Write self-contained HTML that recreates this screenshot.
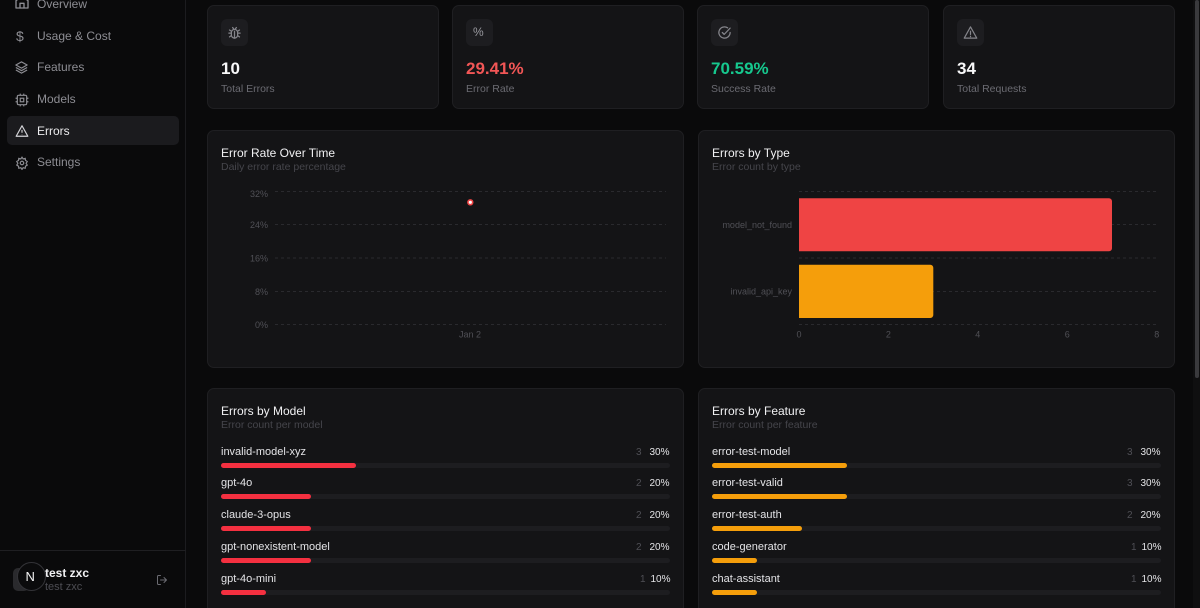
<!DOCTYPE html>
<html><head><meta charset="utf-8">
<style>
*{margin:0;padding:0;box-sizing:border-box}
html,body{width:1200px;height:608px;overflow:hidden;background:#0a0a0b;font-family:"Liberation Sans",sans-serif}
#wrap{position:relative;width:1200px;height:608px;overflow:hidden;background:#0a0a0b}
.a{position:absolute;white-space:nowrap;line-height:1}
.card{position:absolute;background:#141416;border:1px solid #1f1f22;border-radius:7px}
.ib{position:absolute;width:27px;height:27px;border-radius:6px;background:#1d1d20}
.val{font-size:17px;font-weight:700}
.lab{font-size:10.5px;color:#6b6b72}
.ttl{font-size:12px;color:#f1f1f3}
.sub{font-size:10.5px;color:#45454b}
.nav{font-size:12px;color:#8d8d93}
.row{font-size:11px;color:#e4e4e7}
.cnt{font-size:10px;color:#4f4f55}
.pct{font-size:10px;color:#e4e4e7}
.trk{position:absolute;height:5px;border-radius:3px;background:#1d1d20}
.fil{position:absolute;height:5px;border-radius:3px}
</style></head><body><div id="wrap">

<!-- sidebar -->
<div style="position:absolute;left:0;top:0;width:186px;height:608px;background:#0a0a0b;border-right:1px solid #1c1c1f"></div>
<div style="position:absolute;left:7px;top:116px;width:172px;height:29px;border-radius:5px;background:#1b1b1e"></div>

<svg class="a" style="left:14px;top:-6px" width="16" height="16" viewBox="0 0 24 24" fill="none" stroke="#8d8d93" stroke-width="2" stroke-linecap="round" stroke-linejoin="round"><path d="M3 10l9-7 9 7v11H3z"/><path d="M9 21v-7h6v7"/></svg>
<div class="a nav" style="left:37px;top:-2.3px">Overview</div>

<div class="a nav" style="left:16px;top:28.5px;font-size:14px">$</div>
<div class="a nav" style="left:37px;top:29.6px">Usage &amp; Cost</div>

<svg class="a" style="left:14px;top:59.5px" width="15" height="15" viewBox="0 0 24 24" fill="none" stroke="#8d8d93" stroke-width="2" stroke-linejoin="round"><path d="M12 3l9 5-9 5-9-5z"/><path d="M3 12l9 5 9-5"/><path d="M3 16l9 5 9-5"/></svg>
<div class="a nav" style="left:37px;top:61px">Features</div>

<svg class="a" style="left:15px;top:92.5px" width="14" height="14" viewBox="0 0 24 24" fill="none" stroke="#8d8d93" stroke-width="2"><rect x="4" y="4" width="16" height="16" rx="2"/><rect x="9" y="9" width="6" height="6"/><path d="M9 1v3M15 1v3M9 20v3M15 20v3M1 9h3M1 15h3M20 9h3M20 15h3"/></svg>
<div class="a nav" style="left:37px;top:92.6px">Models</div>

<svg class="a" style="left:15px;top:123.5px" width="14" height="14" viewBox="0 0 24 24" fill="none" stroke="#d4d4d8" stroke-width="2" stroke-linejoin="round"><path d="M12 3L2 21h20z"/><path d="M12 10v5M12 18v.5"/></svg>
<div class="a nav" style="left:37px;top:125px;color:#ececee">Errors</div>

<svg class="a" style="left:15px;top:155.5px" width="14" height="14" viewBox="0 0 24 24" fill="none" stroke="#8d8d93" stroke-width="2"><circle cx="12" cy="12" r="3"/><path d="M12 2l2 3 3.5-1 .5 3.5 3 2-2 3 2 3-3 2-.5 3.5-3.5-1-2 3-2-3-3.5 1-.5-3.5-3-2 2-3-2-3 3-2 .5-3.5 3.5 1z"/></svg>
<div class="a nav" style="left:37px;top:156.3px">Settings</div>

<div style="position:absolute;left:0;top:550px;width:186px;height:1px;background:#1f1f22"></div>
<div style="position:absolute;left:13px;top:568px;width:16px;height:23px;border-radius:5px;background:#2a2a2d"></div>
<div style="position:absolute;left:17px;top:562px;width:29px;height:29px;border-radius:50%;background:#0b0b0c;border:1px solid #333337"></div>
<div class="a" style="left:25.5px;top:569.5px;font-size:13px;color:#f4f4f5">N</div>
<div class="a" style="left:45px;top:567px;font-size:12px;font-weight:700;color:#f1f1f3">test zxc</div>
<div class="a" style="left:45px;top:582.3px;font-size:11px;color:#4d4d53">test zxc</div>
<svg class="a" style="left:156px;top:574px" width="12" height="12" viewBox="0 0 24 24" fill="none" stroke="#6b6b72" stroke-width="2" stroke-linecap="round" stroke-linejoin="round"><path d="M9 21H5a2 2 0 0 1-2-2V5a2 2 0 0 1 2-2h4"/><path d="M16 17l5-5-5-5M21 12H9"/></svg>

<!-- scrollbar -->
<div style="position:absolute;left:1193px;top:0;width:7px;height:608px;background:#0f0f10"></div>
<div style="position:absolute;left:1195px;top:0;width:4px;height:378px;border-radius:2px;background:#3a3a3d"></div>

<!-- stat cards -->
<div class="card" style="left:207px;top:5px;width:232px;height:104px"></div>
<div class="ib" style="left:221px;top:19px"></div>
<svg class="a" style="left:227px;top:25px" width="15" height="15" viewBox="0 0 24 24" fill="none" stroke="#85858b" stroke-width="2" stroke-linecap="round"><rect x="7" y="7" width="10" height="14" rx="5"/><path d="M9 4l1.5 2M15 4l-1.5 2M12 10v11M3 13h4M17 13h4M4 8l3 2M20 8l-3 2M4 19l3-2M20 19l-3-2"/></svg>
<div class="a val" style="left:221px;top:60px;color:#f8f8f9">10</div>
<div class="a lab" style="left:221px;top:83.5px">Total Errors</div>

<div class="card" style="left:452px;top:5px;width:232px;height:104px"></div>
<div class="ib" style="left:466px;top:19px"></div>
<div class="a" style="left:473px;top:26px;font-size:12px;color:#9a9aa0">%</div>
<div class="a val" style="left:466px;top:60px;color:#f25656">29.41%</div>
<div class="a lab" style="left:466px;top:83.5px">Error Rate</div>

<div class="card" style="left:697px;top:5px;width:232px;height:104px"></div>
<div class="ib" style="left:711px;top:19px"></div>
<svg class="a" style="left:717px;top:25px" width="15" height="15" viewBox="0 0 24 24" fill="none" stroke="#85858b" stroke-width="2" stroke-linecap="round" stroke-linejoin="round"><path d="M21 12a9 9 0 1 1-4-7.5"/><path d="M8.5 12l3 3L21 5"/></svg>
<div class="a val" style="left:711px;top:60px;color:#16c88e">70.59%</div>
<div class="a lab" style="left:711px;top:83.5px">Success Rate</div>

<div class="card" style="left:943px;top:5px;width:232px;height:104px"></div>
<div class="ib" style="left:957px;top:19px"></div>
<svg class="a" style="left:963px;top:25px" width="15" height="15" viewBox="0 0 24 24" fill="none" stroke="#85858b" stroke-width="2" stroke-linejoin="round" stroke-linecap="round"><path d="M12 3L2 21h20z"/><path d="M12 10v5M12 18v.5"/></svg>
<div class="a val" style="left:957px;top:60px;color:#f8f8f9">34</div>
<div class="a lab" style="left:957px;top:83.5px">Total Requests</div>

<!-- error rate over time -->
<div class="card" style="left:207px;top:130px;width:477px;height:238px"></div>
<div class="a ttl" style="left:221px;top:146.5px">Error Rate Over Time</div>
<div class="a sub" style="left:221px;top:161.8px">Daily error rate percentage</div>
<svg class="a" style="left:0;top:0" width="1200" height="608">
<g stroke="#2a2a2e" stroke-width="1" stroke-dasharray="3 3">
<line x1="275" y1="191.5" x2="666" y2="191.5"/>
<line x1="275" y1="224.5" x2="666" y2="224.5"/>
<line x1="275" y1="258" x2="666" y2="258"/>
<line x1="275" y1="291.5" x2="666" y2="291.5"/>
<line x1="275" y1="324.5" x2="666" y2="324.5"/>
</g>
<g font-family="Liberation Sans, sans-serif" font-size="9" fill="#505056" text-anchor="end">
<text x="268" y="197">32%</text>
<text x="268" y="228">24%</text>
<text x="268" y="261.5">16%</text>
<text x="268" y="295">8%</text>
<text x="268" y="328">0%</text>
</g>
<text x="470" y="337.5" font-family="Liberation Sans, sans-serif" font-size="9" fill="#505056" text-anchor="middle">Jan 2</text>
<circle cx="470.3" cy="202.3" r="2.4" fill="#ffffff" stroke="#ef4444" stroke-width="1.6"/>
</svg>

<!-- errors by type -->
<div class="card" style="left:698px;top:130px;width:477px;height:238px"></div>
<div class="a ttl" style="left:712px;top:146.5px">Errors by Type</div>
<div class="a sub" style="left:712px;top:161.8px">Error count by type</div>
<svg class="a" style="left:0;top:0" width="1200" height="608">
<g stroke="#2a2a2e" stroke-width="1" stroke-dasharray="3 3">
<line x1="799" y1="191.5" x2="1157" y2="191.5"/>
<line x1="799" y1="224.5" x2="1157" y2="224.5"/>
<line x1="799" y1="258" x2="1157" y2="258"/>
<line x1="799" y1="291.5" x2="1157" y2="291.5"/>
<line x1="799" y1="324.5" x2="1157" y2="324.5"/>
</g>
<path d="M799 198.3 h310 a3 3 0 0 1 3 3 v47 a3 3 0 0 1 -3 3 h-310 z" fill="#ef4444"/>
<path d="M799 264.7 h131.3 a3 3 0 0 1 3 3 v47.3 a3 3 0 0 1 -3 3 h-131.3 z" fill="#f59e0b"/>
<g font-family="Liberation Sans, sans-serif" font-size="9" fill="#505056" text-anchor="end">
<text x="792" y="228">model_not_found</text>
<text x="792" y="294.5">invalid_api_key</text>
</g>
<g font-family="Liberation Sans, sans-serif" font-size="9" fill="#505056" text-anchor="middle">
<text x="799" y="337.5">0</text>
<text x="888.4" y="337.5">2</text>
<text x="977.8" y="337.5">4</text>
<text x="1067.3" y="337.5">6</text>
<text x="1156.7" y="337.5">8</text>
</g>
</svg>

<!-- errors by model -->
<div class="card" style="left:207px;top:388px;width:477px;height:240px"></div>
<div class="a ttl" style="left:221px;top:404.8px">Errors by Model</div>
<div class="a sub" style="left:221px;top:419.5px">Error count per model</div>

<div class="a row" style="left:221px;top:446.5px">invalid-model-xyz</div>
<div class="a cnt" style="left:636px;top:447.5px">3</div>
<div class="a pct" style="left:649.5px;top:447.5px">30%</div>
<div class="trk" style="left:221px;top:462.5px;width:449px"></div>
<div class="fil" style="left:221px;top:462.5px;width:134.5px;background:#f43040"></div>

<div class="a row" style="left:221px;top:478.3px">gpt-4o</div>
<div class="a cnt" style="left:636px;top:479.3px">2</div>
<div class="a pct" style="left:649.5px;top:479.3px">20%</div>
<div class="trk" style="left:221px;top:494.3px;width:449px"></div>
<div class="fil" style="left:221px;top:494.3px;width:90px;background:#f43040"></div>

<div class="a row" style="left:221px;top:510px">claude-3-opus</div>
<div class="a cnt" style="left:636px;top:511px">2</div>
<div class="a pct" style="left:649.5px;top:511px">20%</div>
<div class="trk" style="left:221px;top:526px;width:449px"></div>
<div class="fil" style="left:221px;top:526px;width:90px;background:#f43040"></div>

<div class="a row" style="left:221px;top:541.8px">gpt-nonexistent-model</div>
<div class="a cnt" style="left:636px;top:542.8px">2</div>
<div class="a pct" style="left:649.5px;top:542.8px">20%</div>
<div class="trk" style="left:221px;top:557.8px;width:449px"></div>
<div class="fil" style="left:221px;top:557.8px;width:90px;background:#f43040"></div>

<div class="a row" style="left:221px;top:573.5px">gpt-4o-mini</div>
<div class="a cnt" style="left:640px;top:574.5px">1</div>
<div class="a pct" style="left:650.5px;top:574.5px">10%</div>
<div class="trk" style="left:221px;top:589.5px;width:449px"></div>
<div class="fil" style="left:221px;top:589.5px;width:45px;background:#f43040"></div>

<!-- errors by feature -->
<div class="card" style="left:698px;top:388px;width:477px;height:240px"></div>
<div class="a ttl" style="left:712px;top:404.8px">Errors by Feature</div>
<div class="a sub" style="left:712px;top:419.5px">Error count per feature</div>

<div class="a row" style="left:712px;top:446.5px">error-test-model</div>
<div class="a cnt" style="left:1127px;top:447.5px">3</div>
<div class="a pct" style="left:1140.5px;top:447.5px">30%</div>
<div class="trk" style="left:712px;top:462.5px;width:449px"></div>
<div class="fil" style="left:712px;top:462.5px;width:134.5px;background:#f59e0b"></div>

<div class="a row" style="left:712px;top:478.3px">error-test-valid</div>
<div class="a cnt" style="left:1127px;top:479.3px">3</div>
<div class="a pct" style="left:1140.5px;top:479.3px">30%</div>
<div class="trk" style="left:712px;top:494.3px;width:449px"></div>
<div class="fil" style="left:712px;top:494.3px;width:134.5px;background:#f59e0b"></div>

<div class="a row" style="left:712px;top:510px">error-test-auth</div>
<div class="a cnt" style="left:1127px;top:511px">2</div>
<div class="a pct" style="left:1140.5px;top:511px">20%</div>
<div class="trk" style="left:712px;top:526px;width:449px"></div>
<div class="fil" style="left:712px;top:526px;width:90px;background:#f59e0b"></div>

<div class="a row" style="left:712px;top:541.8px">code-generator</div>
<div class="a cnt" style="left:1131px;top:542.8px">1</div>
<div class="a pct" style="left:1141.5px;top:542.8px">10%</div>
<div class="trk" style="left:712px;top:557.8px;width:449px"></div>
<div class="fil" style="left:712px;top:557.8px;width:45px;background:#f59e0b"></div>

<div class="a row" style="left:712px;top:573.5px">chat-assistant</div>
<div class="a cnt" style="left:1131px;top:574.5px">1</div>
<div class="a pct" style="left:1141.5px;top:574.5px">10%</div>
<div class="trk" style="left:712px;top:589.5px;width:449px"></div>
<div class="fil" style="left:712px;top:589.5px;width:45px;background:#f59e0b"></div>

</div></body></html>
